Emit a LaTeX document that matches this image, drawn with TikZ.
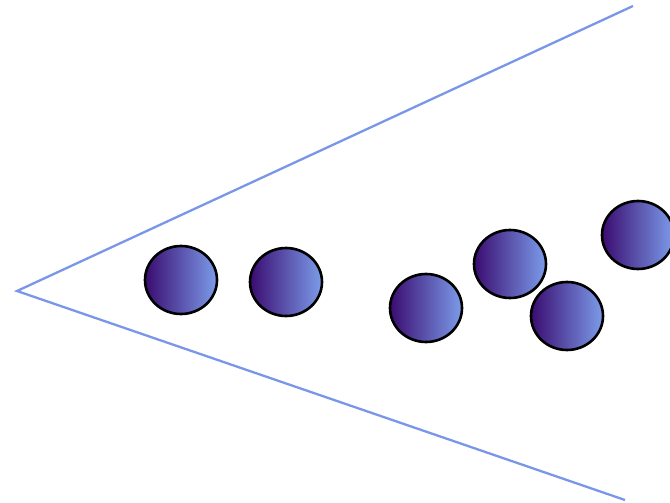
\documentclass[tikz,border=0pt]{standalone}
\usetikzlibrary{shapes.geometric}
\begin{document}
\begin{tikzpicture}[x=1pt,y=-1pt,
  ray/.style={draw=rayblue,line width=2.3pt},
  ball/.style={ellipse,minimum width=72pt,minimum height=68pt,inner sep=0pt,draw=black,line width=2.6pt,left color=balldark,right color=balllight}]
\definecolor{rayblue}{RGB}{122,150,232}
\definecolor{balldark}{RGB}{58,12,112}
\definecolor{balllight}{RGB}{124,156,234}
\useasboundingbox (0,0) rectangle (670,503);
\coordinate (apex) at (17,291);
\coordinate (top) at (633,6);
\coordinate (bot) at (625,500);
\draw[ray] (top) -- (apex) -- (bot);
\node[ball] (b1) at (181,280) {};
\node[ball] (b2) at (286,282) {};
\node[ball] (b3) at (426,308) {};
\node[ball] (b4) at (510,264) {};
\node[ball] (b5) at (567,316) {};
\node[ball] (b6) at (638,235) {};
\end{tikzpicture}
\end{document}
